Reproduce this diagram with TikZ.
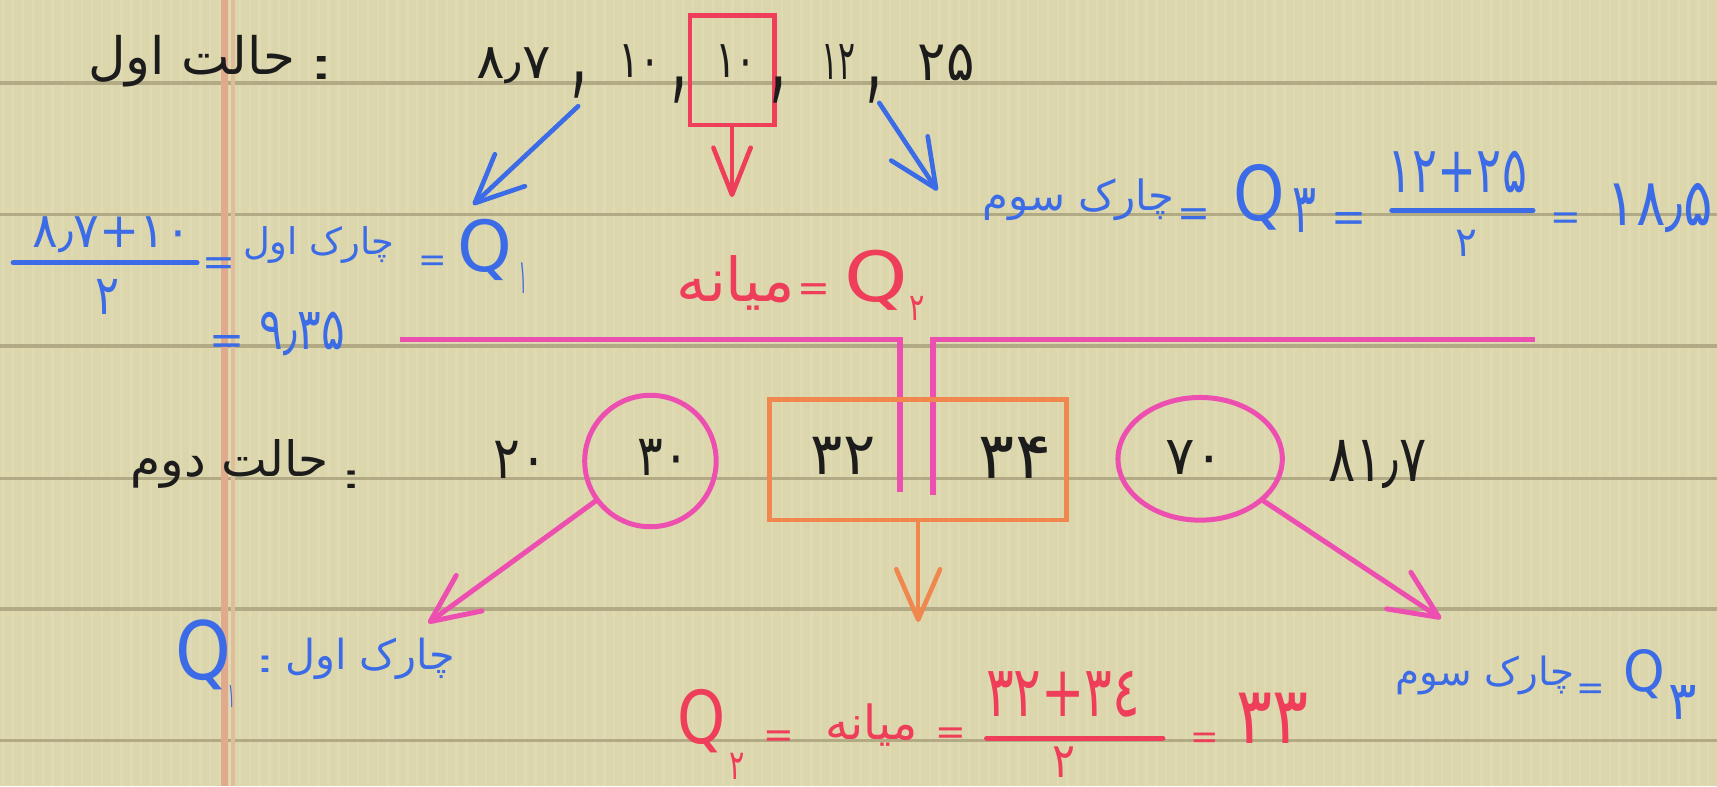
\documentclass[tikz,border=0pt]{standalone}
\usepackage{fontspec}
\usepackage{graphicx}
\usetikzlibrary{arrows.meta,shapes.geometric}
\newfontfamily\fa[Script=Arabic]{DejaVu Sans}
\TeXXeTstate=1
\newdimen\upx \upx=0.1mm
\newcommand\fwh[3]{\resizebox*{#1\upx}{#2\upx}{#3}}
\newcommand\fwd[2]{\resizebox{#1\upx}{!}{#2}}
\newcommand\eqs[1]{\resizebox{#1\upx}{!}{=}}
\newcommand\rtl[1]{\beginR #1\endR}
\definecolor{paper}{HTML}{DCD6AC}
\definecolor{rulec}{HTML}{B2AA84}
\definecolor{marginc}{HTML}{E2AA8C}
\definecolor{inkk}{HTML}{1C1C1C}
\definecolor{inkb}{HTML}{3B6BE6}
\definecolor{inkr}{HTML}{EE3E5A}
\definecolor{pinkc}{HTML}{EC4FB0}
\definecolor{orng}{HTML}{F0874E}
\tikzset{
  txt/.style={inner sep=0pt, outer sep=0pt, font=\fa},
  blk/.style={txt, text=inkk},
  blu/.style={txt, text=inkb},
  rd/.style={txt, text=inkr},
  eqb/.style={blu, anchor=base},
  eqr/.style={rd, anchor=base},
  ruled/.style={draw=rulec, line width=0.9pt},
  stripe/.style={draw=white, opacity=0.10, line width=0.6pt},
  margin/.style={draw=marginc, line width=1.6pt},
  margin2/.style={draw=marginc!60!paper, line width=1pt},
  bluebar/.style={draw=inkb, line width=1.3pt, line cap=round},
  redbar/.style={draw=inkr, line width=1.3pt, line cap=round},
  bluearr/.style={draw=inkb, line width=1.2pt, line cap=round, -{Straight Barb[length=4.4mm,width=4mm,round]}},
  redarr/.style={draw=inkr, line width=1.2pt, line cap=round, -{Straight Barb[length=4.3mm,width=3.4mm,round]}},
  pinkarr/.style={draw=pinkc, line width=1.3pt, line cap=round, -{Straight Barb[length=4.4mm,width=4mm,round]}},
  orngarr/.style={draw=orng, line width=1.2pt, line cap=round, -{Straight Barb[length=4.6mm,width=4mm,round]}},
  pinkline/.style={draw=pinkc, line width=1.5pt},
  ring/.style={ellipse, draw=pinkc, line width=1.3pt, inner sep=0pt},
  redbox/.style={rectangle, draw=inkr, line width=1.2pt, inner sep=0pt},
  orngbox/.style={rectangle, draw=orng, line width=1.2pt, inner sep=0pt},
}
\begin{document}
\begin{tikzpicture}[x=0.01cm,y=-0.01cm]
\useasboundingbox (0,0) rectangle (1568,718);
\fill[paper] (0,0) rectangle (1568,718);
\foreach \x in {3,12,...,1568} \draw[stripe] (\x,0) -- (\x,718);
\foreach \y in {76,196,316,437,556,676} \draw[ruled] (0,\y) -- (1568,\y);
\draw[margin] (205,0) -- (205,718);
\draw[margin2] (213,0) -- (213,718);

% ---------- row 1 ----------
\node[blk] (h1) at (175,56) {\fwd{189}{\fa\rtl{حالت اول}}};
\node[blk] (c1) at (294,62) {\fwh{26}{21}{:}};
\node[blk] (a1) at (469,60) {\fwh{68}{33}{۸٫۷}};
\node[blk] (k1) at (529,78) {\fwh{16}{24}{,}};
\node[blk] (a2) at (584,56) {\fwh{39}{30}{۱۰}};
\node[blk] (k2) at (620,82) {\fwh{16}{24}{,}};
\node[redbox, minimum width=7.7mm, minimum height=10mm] (rbox) at (668.5,64) {};
\node[blk] (a3) at (672,56) {\fwh{38}{30}{۱۰}};
\node[blk] (k3) at (711,82) {\fwh{16}{24}{,}};
\node[blk] (a4) at (766,57) {\fwh{31}{32}{۱۲}};
\node[blk] (k4) at (798,82) {\fwh{16}{24}{,}};
\node[blk] (a5) at (864,57) {\fwh{52}{33}{۲۵}};

\coordinate (bl1s) at (528,97);
\coordinate (bl1e) at (432,187);
\draw[bluearr] (bl1s) -- (bl1e);
\coordinate (medtip) at (668.5,180);
\draw[redarr] (rbox.south) -- (medtip);
\coordinate (br1s) at (803,94);
\coordinate (br1e) at (856,174);
\draw[bluearr] (br1s) -- (br1e);

% Q1 block
\node[blu] (q1num) at (102,214) {\fwh{145}{33}{۸٫۷+۱۰}};
\coordinate (q1bl) at (12,240);
\coordinate (q1br) at (180,240);
\draw[bluebar] (q1bl) -- (q1br);
\node[blu] (q1den) at (98,271) {\fwh{22}{32}{۲}};
\node[eqb] (q1e1) at (200,252) {\eqs{30}};
\node[blu] (q1w) at (291,224) {\fwd{138}{\fa\rtl{چارک اول}}};
\node[eqb] (q1e2) at (395,248) {\eqs{26}};
\node[blu] (q1Q) at (443,228) {\fwh{50}{56}{Q}};
\node[blu] (q1s) at (478,254) {\fwh{7}{28}{۱}};
\node[eqb] (q1e3) at (207,324) {\eqs{32}};
\node[blu] (q1v) at (276,305) {\fwh{78}{40}{۹٫۳۵}};

% median row 1
\node[rd] (m1w) at (672,258) {\fwd{108}{\fa\rtl{میانه}}};
\node[eqr] (m1e) at (743,275) {\eqs{30}};
\node[rd] (m1Q) at (800,256) {\fwh{58}{55}{Q}};
\node[rd] (m1s) at (838,282) {\fwh{14}{22}{۲}};

% Q3 block
\node[blu] (q3w) at (985,182) {\fwd{175}{\fa\rtl{چارک سوم}}};
\node[eqb] (q3e1) at (1090,207) {\eqs{30}};
\node[blu] (q3Q) at (1150,180) {\fwh{47}{60}{Q}};
\node[blu] (q3s) at (1191,192) {\fwh{22}{40}{۳}};
\node[eqb] (q3e2) at (1232,211) {\eqs{32}};
\node[blu] (q3num) at (1331,157) {\fwh{127}{38}{۱۲+۲۵}};
\coordinate (q3bl) at (1271,192);
\coordinate (q3br) at (1400,192);
\draw[bluebar] (q3bl) -- (q3br);
\node[blu] (q3den) at (1339,222) {\fwh{20}{24}{۲}};
\node[eqb] (q3e3) at (1430,210) {\eqs{28}};
\node[blu] (q3v) at (1516,190) {\fwh{97}{45}{۱۸٫۵}};

% pink brackets
\coordinate (pl1) at (365,310);
\coordinate (pl2) at (822,310);
\coordinate (pl3) at (822,449);
\coordinate (pr1) at (852,452);
\coordinate (pr2) at (852,310);
\coordinate (pr3) at (1402,310);
\draw[pinkline] (pl1) -- (pl2) -- (pl3);
\draw[pinkline] (pr1) -- (pr2) -- (pr3);

% ---------- row 2 ----------
\node[blk] (h2) at (210,424) {\fwd{181}{\fa\rtl{حالت دوم}}};
\node[blk] (c2) at (321,438) {\fwh{22}{16}{:}};
\node[blk] (b1) at (475,420) {\fwh{49}{34}{۲۰}};
\node[ring, minimum width=12mm, minimum height=12mm] (c30) at (594,421) {};
\node[blk] (b2) at (606,418) {\fwh{47}{33}{۳۰}};
\node[orngbox, minimum width=27.1mm, minimum height=11mm] (obox) at (838.5,420) {};
\node[blk] (b3) at (770,416) {\fwh{59}{34}{۳۲}};
\node[blk] (b4) at (927,418) {\fwh{66}{38}{۳۴}};
\node[ring, minimum width=15mm, minimum height=11.2mm] (c70) at (1096,419) {};
\node[blk] (b5) at (1091,418) {\fwh{54}{31}{۷۰}};
\node[blk] (b6) at (1258,424) {\fwh{90}{44}{۸۱٫۷}};

\coordinate (pa1) at (391,569);
\draw[pinkarr] (c30) -- (pa1);
\coordinate (oa1) at (838.5,568);
\draw[orngarr] (obox.south) -- (oa1);
\coordinate (pa2) at (1316,565);
\draw[pinkarr] (c70) -- (pa2);

% bottom left
\node[blu] (d1Q) at (186,598) {\fwh{51}{64}{Q}};
\node[blu] (d1s) at (212,636) {\fwh{6}{20}{۱}};
\node[blu] (d1c) at (242,607) {\fwh{20}{15}{:}};
\node[blu] (d1w) at (338,602) {\fwd{155}{\fa\rtl{چارک اول}}};

% bottom middle
\node[rd] (d2Q) at (641,659) {\fwh{44}{58}{Q}};
\node[rd] (d2s) at (673,700) {\fwh{14}{24}{۲}};
\node[eqr] (d2e1) at (711,683) {\eqs{28}};
\node[rd] (d2w) at (796,662) {\fwd{84}{\fa\rtl{میانه}}};
\node[eqr] (d2e2) at (868,680) {\eqs{28}};
\node[rd] (d2num) at (971,634) {\fwh{141}{42}{۳۲+۳٤}};
\coordinate (d2bl) at (901,674);
\coordinate (d2br) at (1062,674);
\draw[redbar] (d2bl) -- (d2br);
\node[rd] (d2den) at (972,696) {\fwh{21}{28}{۲}};
\node[eqr] (d2e3) at (1100,684) {\eqs{26}};
\node[rd] (d2v) at (1162,656) {\fwh{66}{46}{۳۳}};

% bottom right
\node[blu] (d3w) at (1356,617) {\fwd{163}{\fa\rtl{چارک سوم}}};
\node[eqb] (d3e) at (1453,639) {\eqs{26}};
\node[blu] (d3Q) at (1502,616) {\fwh{38}{45}{Q}};
\node[blu] (d3s) at (1537,642) {\fwh{26}{31}{۳}};
\end{tikzpicture}
\end{document}
